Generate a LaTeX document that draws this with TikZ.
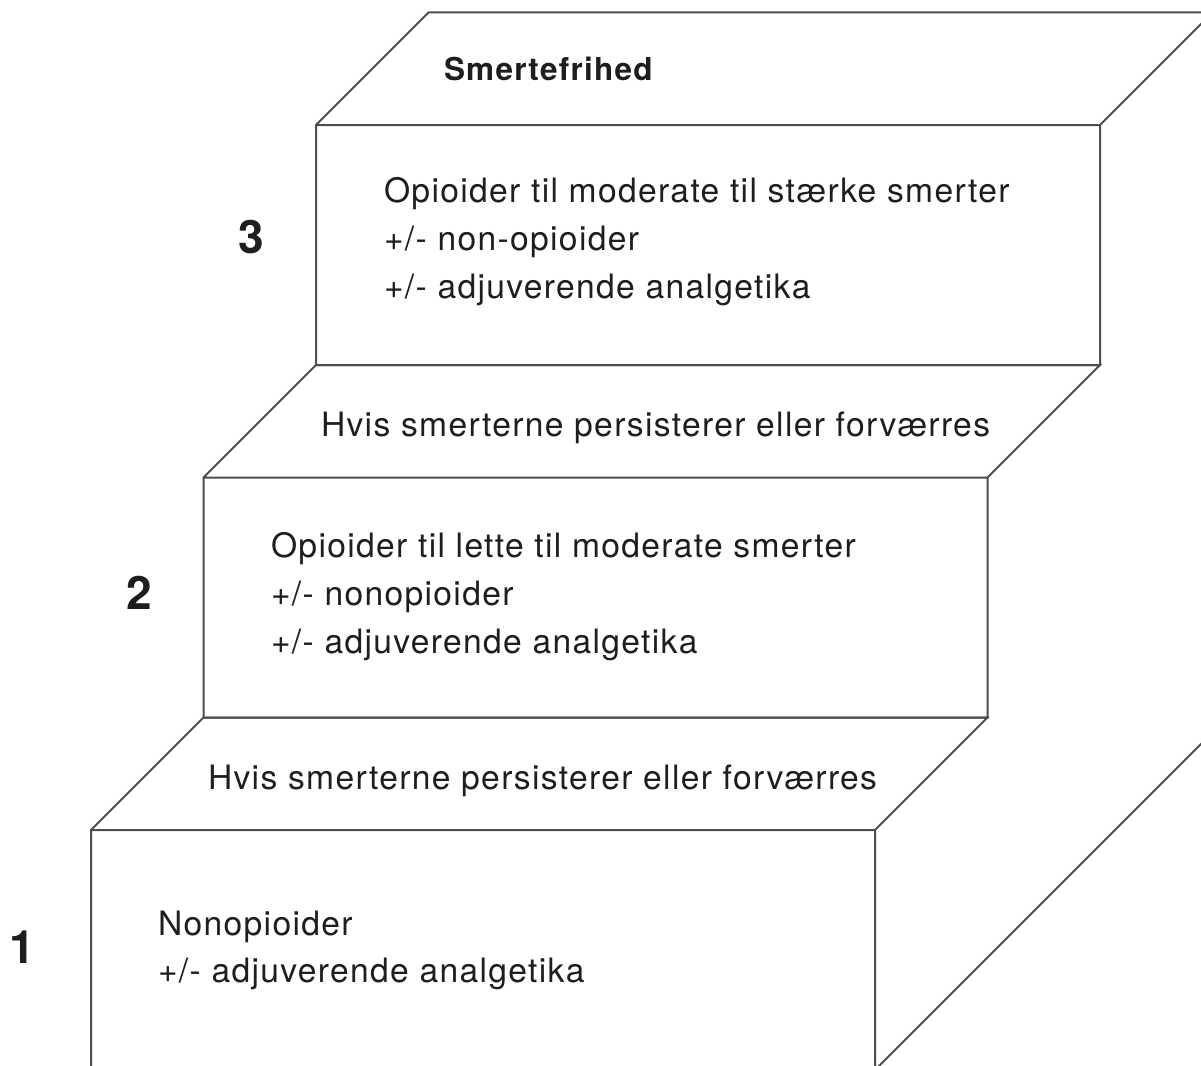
\documentclass[tikz,border=0pt]{standalone}
\usepackage{fontspec}
\setmainfont{TeX Gyre Heros}[LetterSpace=4]
\definecolor{streg}{HTML}{4D4D4D}
\definecolor{skrift}{HTML}{1E1E1E}
\tikzset{
	tekst/.style={anchor=base west,inner sep=0pt,text=skrift,font=\fontsize{33.6}{40}\selectfont},
	overskrift/.style={tekst,font=\fontsize{31.5}{36}\selectfont\bfseries},
	nummer/.style={anchor=base,inner sep=0pt,text=skrift,font=\fontsize{46}{50}\selectfont\bfseries}
}
\begin{document}
\begin{tikzpicture}[x=1pt,y=-1pt,line width=2pt]
	\useasboundingbox(0,0) rectangle (1201,1065);
	\clip(0,0) rectangle (1201,1065);
	% de tre trin: forside og trinflade
	\foreach \i in {0,1,2}
		\draw[streg,line join=miter]({91+112.5*\i},{830-352.5*\i}) rectangle ++(784,240)
			({91+112.5*\i},{830-352.5*\i})--++(112.5,-112.5)--++(784,0)--++(-112.5,112.5);
	\draw[streg](875,1070)--++(400,-400);
	% trin 3
	\node[overskrift](smertefrihed) at (443,81){Smertefrihed};
	\node[nummer](nr3) at (251,253){3};
	\foreach \t [count=\i] in {{Opioider til moderate til stærke smerter},{+/- non-opioider},{+/- adjuverende analgetika}}
		\node[tekst](trin3linje\i) at (383,{154+48*\i}){\t};
	% trin 2
	\node[tekst](hvis2) at (320,436){Hvis smerterne persisterer eller forværres};
	\node[nummer](nr2) at (139,609){2};
	\foreach \t [count=\i] in {{Opioider til lette til moderate smerter},{+/- nonopioider},{+/- adjuverende analgetika}}
		\node[tekst](trin2linje\i) at (270,{509+48*\i}){\t};
	% trin 1
	\node[tekst](hvis1) at (207,789){Hvis smerterne persisterer eller forværres};
	\node[nummer](nr1) at (22,963){1};
	\foreach \t [count=\i] in {{Nonopioider},{+/- adjuverende analgetika}}
		\node[tekst](trin1linje\i) at (157,{888+47*\i}){\t};
\end{tikzpicture}
\end{document}
